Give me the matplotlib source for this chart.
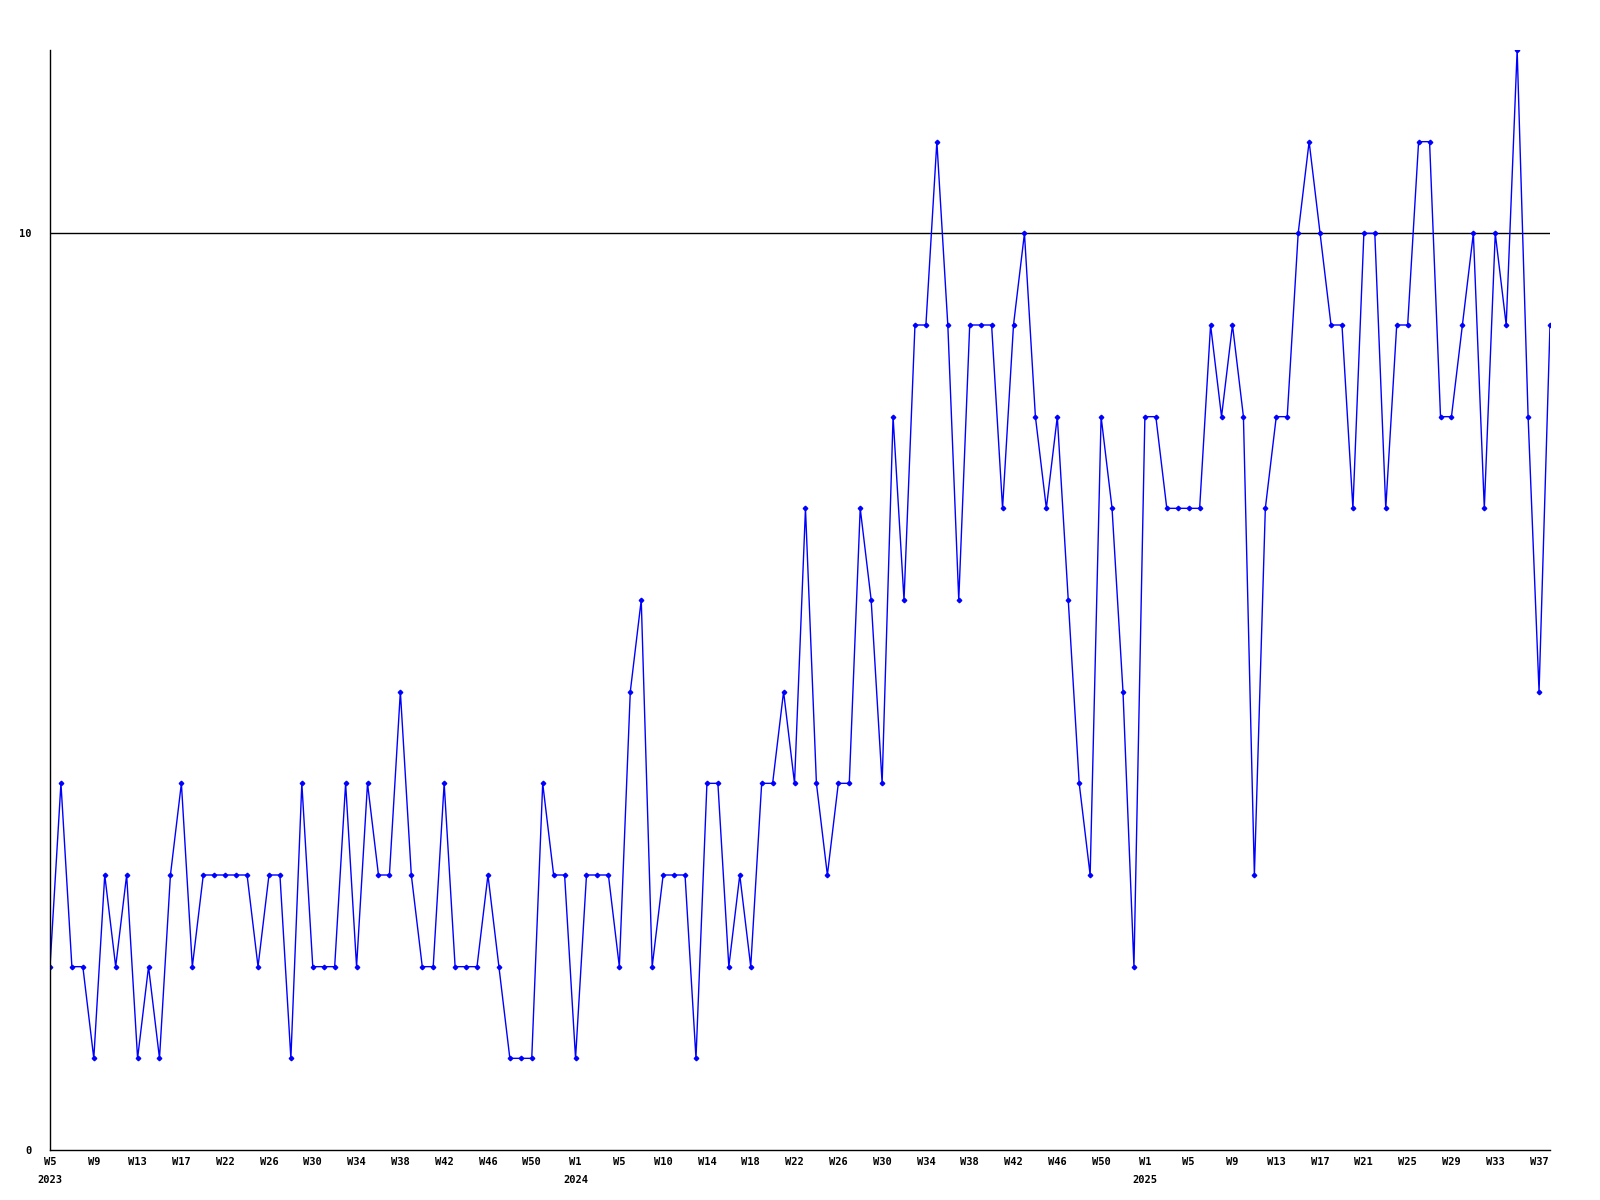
import numpy as np
import matplotlib
matplotlib.use("Agg")
import matplotlib.pyplot as plt

# weekly values, 2023 W5 .. 2025 W38
vals_2023 = [2, 4, 2, 2, 1, 3, 2, 3, 1, 2, 1, 3, 4, 2, 3, 3, 3, 3, 3, 2, 3, 3, 1, 4,
             2, 2, 2, 4, 2, 4, 3, 3, 5, 3, 2, 2, 4, 2, 2, 2, 3, 2, 1, 1, 1, 4, 3, 3]
vals_2024 = [1, 3, 3, 3, 2, 5, 6, 2, 3, 3, 3, 1, 4, 4, 2, 3, 2, 4, 4, 5, 4, 7, 4, 3,
             4, 4, 7, 6, 4, 8, 6, 9, 9, 11, 9, 6, 9, 9, 9, 7, 9, 10, 8, 7, 8, 6, 4, 3,
             8, 7, 5, 2]
vals_2025 = [8, 8, 7, 7, 7, 7, 9, 8, 9, 8, 3, 7, 8, 8, 10, 11, 10, 9, 9, 7, 10, 10,
             7, 9, 9, 11, 11, 8, 8, 9, 10, 7, 10, 9, 12, 8, 5, 9]
values = vals_2023 + vals_2024 + vals_2025

week_labels = ["W5", "W9", "W13", "W17", "W22", "W26", "W30", "W34", "W38", "W42", "W46", "W50",
               "W1", "W5", "W10", "W14", "W18", "W22", "W26", "W30", "W34", "W38", "W42", "W46", "W50",
               "W1", "W5", "W9", "W13", "W17", "W21", "W25", "W29", "W33", "W37"]
year_labels = {0: "2023", 48: "2024", 100: "2025"}
limit = 10

x = np.arange(len(values))

fig = plt.figure(figsize=(16, 12), dpi=100)
ax = fig.add_axes([50 / 1600, 50 / 1200, 1500 / 1600, 1100 / 1200])

ax.axhline(limit, color="black", lw=1, zorder=1)
ax.plot(x, values, color="#0000ff", lw=1, marker="D", markersize=2.3, zorder=2)

ax.set_xlim(0, len(values) - 1)
ax.set_ylim(0, 12)
for side in ["top", "right"]:
    ax.spines[side].set_visible(False)
for side in ["left", "bottom"]:
    ax.spines[side].set_color("black")
    ax.spines[side].set_linewidth(1)

font = dict(family="DejaVu Sans Mono", weight="bold", size=7.5)
ax.set_yticks([0, 10])
ax.set_yticklabels(["0", "10"], **font)
ax.tick_params(axis="y", length=0, pad=13)

ticks = np.arange(0, len(values), 4)[:len(week_labels)]
ax.set_xticks(ticks)
ax.set_xticklabels(week_labels, **font)
ax.tick_params(axis="x", length=0, pad=5)

for i, yr in year_labels.items():
    ax.text(i, -0.27, yr, ha="center", va="top", **font)

fig.savefig("out.png", dpi=100)
